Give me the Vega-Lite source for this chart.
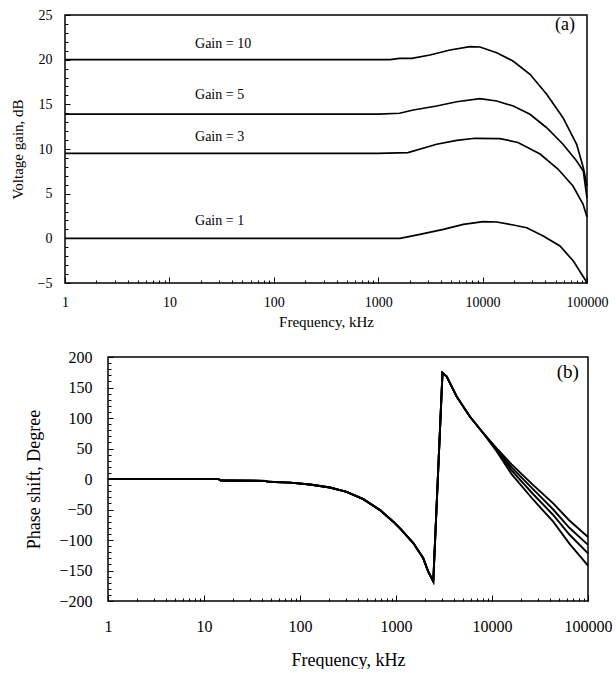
{
  "$schema": "https://vega.github.io/schema/vega-lite/v6.json",
  "padding": {"left": 9, "top": 7, "right": 0, "bottom": 0},
  "spacing": 19,
  "config": {
    "font": "Liberation Serif",
    "view": {"stroke": "black", "strokeWidth": 1.5},
    "axis": {
      "domain": false, "grid": false, "labelFlush": false, "labelOverlap": false,
      "labelColor": "black", "titleColor": "black", "tickColor": "black",
      "titleFontWeight": "normal", "labelFont": "Liberation Serif", "titleFont": "Liberation Serif",
      "tickWidth": 1
    }
  },
  "datasets": {
    "gain": [
      {"g": "10", "f": 1, "v": 20}, {"g": "10", "f": 10, "v": 20}, {"g": "10", "f": 100, "v": 20}, {"g": "10", "f": 1000, "v": 20}, {"g": "10", "f": 1300, "v": 20}, {"g": "10", "f": 1600, "v": 20.15}, {"g": "10", "f": 2100, "v": 20.15}, {"g": "10", "f": 3135, "v": 20.52}, {"g": "10", "f": 4875, "v": 21.08}, {"g": "10", "f": 7570, "v": 21.45}, {"g": "10", "f": 9440, "v": 21.42}, {"g": "10", "f": 13650, "v": 20.78}, {"g": "10", "f": 19550, "v": 19.85}, {"g": "10", "f": 28450, "v": 18.36}, {"g": "10", "f": 41100, "v": 16.12}, {"g": "10", "f": 58900, "v": 13.5}, {"g": "10", "f": 79600, "v": 10.53}, {"g": "10", "f": 92200, "v": 7.91}, {"g": "10", "f": 100000, "v": 5.86},
      {"g": "5", "f": 1, "v": 13.9}, {"g": "5", "f": 10, "v": 13.9}, {"g": "5", "f": 100, "v": 13.9}, {"g": "5", "f": 1000, "v": 13.9}, {"g": "5", "f": 1600, "v": 14.0}, {"g": "5", "f": 2168, "v": 14.37}, {"g": "5", "f": 3630, "v": 14.81}, {"g": "5", "f": 5650, "v": 15.29}, {"g": "5", "f": 9440, "v": 15.63}, {"g": "5", "f": 13650, "v": 15.37}, {"g": "5", "f": 19670, "v": 14.81}, {"g": "5", "f": 28450, "v": 13.88}, {"g": "5", "f": 41100, "v": 12.38}, {"g": "5", "f": 58900, "v": 10.53}, {"g": "5", "f": 79600, "v": 8.66}, {"g": "5", "f": 92200, "v": 7.54}, {"g": "5", "f": 100000, "v": 4.51},
      {"g": "3", "f": 1, "v": 9.5}, {"g": "3", "f": 10, "v": 9.5}, {"g": "3", "f": 100, "v": 9.5}, {"g": "3", "f": 1000, "v": 9.5}, {"g": "3", "f": 1930, "v": 9.6}, {"g": "3", "f": 3630, "v": 10.53}, {"g": "3", "f": 5650, "v": 10.97}, {"g": "3", "f": 8460, "v": 11.2}, {"g": "3", "f": 14680, "v": 11.17}, {"g": "3", "f": 21800, "v": 10.73}, {"g": "3", "f": 35500, "v": 9.44}, {"g": "3", "f": 52700, "v": 7.76}, {"g": "3", "f": 73400, "v": 5.86}, {"g": "3", "f": 91600, "v": 3.84}, {"g": "3", "f": 100000, "v": 2.39},
      {"g": "1", "f": 1, "v": 0}, {"g": "1", "f": 10, "v": 0}, {"g": "1", "f": 100, "v": 0}, {"g": "1", "f": 1000, "v": 0}, {"g": "1", "f": 1618, "v": 0}, {"g": "1", "f": 2514, "v": 0.45}, {"g": "1", "f": 4205, "v": 1.01}, {"g": "1", "f": 6535, "v": 1.57}, {"g": "1", "f": 10160, "v": 1.86}, {"g": "1", "f": 13650, "v": 1.83}, {"g": "1", "f": 19670, "v": 1.49}, {"g": "1", "f": 26440, "v": 1.19}, {"g": "1", "f": 38100, "v": 0.26}, {"g": "1", "f": 55100, "v": -0.86}, {"g": "1", "f": 74000, "v": -2.54}, {"g": "1", "f": 95700, "v": -4.6}, {"g": "1", "f": 100000, "v": -5}
    ],
    "gainLabels": [
      {"label": "Gain = 10", "f": 17.6, "v": 21.7},
      {"label": "Gain = 5", "f": 17.6, "v": 16.1},
      {"label": "Gain = 3", "f": 17.6, "v": 11.3},
      {"label": "Gain = 1", "f": 17.6, "v": 1.9}
    ],
    "panelA": [{"label": "(a)", "f": 61600, "v": 23.9}],
    "panelB": [{"label": "(b)", "f": 61700, "v": 176}],
    "phase": [
      {"g": "A", "f": 1, "v": 0}, {"g": "A", "f": 14, "v": 0}, {"g": "A", "f": 15, "v": -2.5}, {"g": "A", "f": 44, "v": -3}, {"g": "A", "f": 46, "v": -4.5}, {"g": "A", "f": 79, "v": -6}, {"g": "A", "f": 127, "v": -9}, {"g": "A", "f": 205, "v": -14}, {"g": "A", "f": 306, "v": -21}, {"g": "A", "f": 456, "v": -33}, {"g": "A", "f": 681, "v": -51}, {"g": "A", "f": 937, "v": -70}, {"g": "A", "f": 1101, "v": -81}, {"g": "A", "f": 1514, "v": -105}, {"g": "A", "f": 1923, "v": -130}, {"g": "A", "f": 2168, "v": -152}, {"g": "A", "f": 2445, "v": -168}, {"g": "A", "f": 3050, "v": 174}, {"g": "A", "f": 3375, "v": 168}, {"g": "A", "f": 4290, "v": 135}, {"g": "A", "f": 5900, "v": 102}, {"g": "A", "f": 8120, "v": 75}, {"g": "A", "f": 11200, "v": 50}, {"g": "A", "f": 16000, "v": 24}, {"g": "A", "f": 26900, "v": -10}, {"g": "A", "f": 43400, "v": -40}, {"g": "A", "f": 64000, "v": -68}, {"g": "A", "f": 100000, "v": -95},
      {"g": "B", "f": 1, "v": 0}, {"g": "B", "f": 14, "v": 0}, {"g": "B", "f": 15, "v": -2.5}, {"g": "B", "f": 44, "v": -3}, {"g": "B", "f": 46, "v": -4.5}, {"g": "B", "f": 79, "v": -6}, {"g": "B", "f": 127, "v": -9}, {"g": "B", "f": 205, "v": -14}, {"g": "B", "f": 306, "v": -21}, {"g": "B", "f": 456, "v": -33}, {"g": "B", "f": 681, "v": -51}, {"g": "B", "f": 937, "v": -70}, {"g": "B", "f": 1101, "v": -81}, {"g": "B", "f": 1514, "v": -105}, {"g": "B", "f": 1923, "v": -130}, {"g": "B", "f": 2168, "v": -152}, {"g": "B", "f": 2445, "v": -168}, {"g": "B", "f": 3050, "v": 174}, {"g": "B", "f": 3375, "v": 168}, {"g": "B", "f": 4290, "v": 135}, {"g": "B", "f": 5900, "v": 102}, {"g": "B", "f": 8120, "v": 75}, {"g": "B", "f": 11200, "v": 49}, {"g": "B", "f": 16000, "v": 19}, {"g": "B", "f": 26900, "v": -17}, {"g": "B", "f": 43400, "v": -50}, {"g": "B", "f": 64000, "v": -80}, {"g": "B", "f": 100000, "v": -108},
      {"g": "C", "f": 1, "v": 0}, {"g": "C", "f": 14, "v": 0}, {"g": "C", "f": 15, "v": -2.5}, {"g": "C", "f": 44, "v": -3}, {"g": "C", "f": 46, "v": -4.5}, {"g": "C", "f": 79, "v": -6}, {"g": "C", "f": 127, "v": -9}, {"g": "C", "f": 205, "v": -14}, {"g": "C", "f": 306, "v": -21}, {"g": "C", "f": 456, "v": -33}, {"g": "C", "f": 681, "v": -51}, {"g": "C", "f": 937, "v": -70}, {"g": "C", "f": 1101, "v": -81}, {"g": "C", "f": 1514, "v": -105}, {"g": "C", "f": 1923, "v": -130}, {"g": "C", "f": 2168, "v": -152}, {"g": "C", "f": 2445, "v": -168}, {"g": "C", "f": 3050, "v": 174}, {"g": "C", "f": 3375, "v": 168}, {"g": "C", "f": 4290, "v": 135}, {"g": "C", "f": 5900, "v": 102}, {"g": "C", "f": 8120, "v": 75}, {"g": "C", "f": 11200, "v": 47}, {"g": "C", "f": 16000, "v": 14}, {"g": "C", "f": 26900, "v": -25}, {"g": "C", "f": 43400, "v": -59}, {"g": "C", "f": 64000, "v": -91}, {"g": "C", "f": 100000, "v": -122},
      {"g": "D", "f": 1, "v": 0}, {"g": "D", "f": 14, "v": 0}, {"g": "D", "f": 15, "v": -2.5}, {"g": "D", "f": 44, "v": -3}, {"g": "D", "f": 46, "v": -4.5}, {"g": "D", "f": 79, "v": -6}, {"g": "D", "f": 127, "v": -9}, {"g": "D", "f": 205, "v": -14}, {"g": "D", "f": 306, "v": -21}, {"g": "D", "f": 456, "v": -33}, {"g": "D", "f": 681, "v": -51}, {"g": "D", "f": 937, "v": -70}, {"g": "D", "f": 1101, "v": -81}, {"g": "D", "f": 1514, "v": -105}, {"g": "D", "f": 1923, "v": -130}, {"g": "D", "f": 2168, "v": -152}, {"g": "D", "f": 2445, "v": -168}, {"g": "D", "f": 3050, "v": 174}, {"g": "D", "f": 3375, "v": 168}, {"g": "D", "f": 4290, "v": 135}, {"g": "D", "f": 5900, "v": 102}, {"g": "D", "f": 8120, "v": 75}, {"g": "D", "f": 11200, "v": 45}, {"g": "D", "f": 16000, "v": 8}, {"g": "D", "f": 26900, "v": -34}, {"g": "D", "f": 43400, "v": -70}, {"g": "D", "f": 64000, "v": -106}, {"g": "D", "f": 100000, "v": -142}
    ]
  },
  "vconcat": [
    {
      "width": 522,
      "height": 268,
      "layer": [
        {
          "data": {"name": "gain"},
          "mark": {"type": "line", "color": "black", "strokeWidth": 1.7},
          "encoding": {
            "x": {
              "field": "f", "type": "quantitative",
              "scale": {"type": "log", "domain": [1, 100000], "nice": false},
              "axis": {
                "title": "Frequency, kHz", "titleFontSize": 15, "labelFontSize": 14,
                "labelOverlap": false,
                "values": [1,2,3,4,5,6,7,8,9,10,20,30,40,50,60,70,80,90,100,200,300,400,500,600,700,800,900,1000,2000,3000,4000,5000,6000,7000,8000,9000,10000,20000,30000,40000,50000,60000,70000,80000,90000,100000],
                "format": "d",
                "labelExpr": "indexof([1,10,100,1000,10000,100000], datum.value) >= 0 ? datum.label : ''",
                "tickSize": {"condition": {"test": "indexof([1,10,100,1000,10000,100000], datum.value) >= 0", "value": -6}, "value": -3},
                "labelPadding": 18, "titlePadding": 2
              }
            },
            "y": {
              "field": "v", "type": "quantitative",
              "scale": {"domain": [-5, 25], "nice": false, "zero": false},
              "axis": {
                "title": "Voltage gain, dB", "titleFontSize": 15, "labelFontSize": 14,
                "labelOverlap": false,
                "tickCount": 200,
                "format": "d",
                "values": [-5,-4,-3,-2,-1,0,1,2,3,4,5,6,7,8,9,10,11,12,13,14,15,16,17,18,19,20,21,22,23,24,25],
                "labelExpr": "datum.value % 5 === 0 ? datum.label : ''",
                "tickSize": {"condition": {"test": "datum.value % 5 === 0", "value": -5}, "value": -3},
                "labelPadding": 18, "titlePadding": 12
              }
            },
            "detail": {"field": "g"}
          }
        },
        {
          "data": {"name": "gainLabels"},
          "mark": {"type": "text", "align": "left", "baseline": "middle", "fontSize": 14, "font": "Liberation Serif", "color": "black"},
          "encoding": {
            "x": {"field": "f", "type": "quantitative"},
            "y": {"field": "v", "type": "quantitative"},
            "text": {"field": "label"}
          }
        },
        {
          "data": {"name": "panelA"},
          "mark": {"type": "text", "align": "center", "baseline": "middle", "fontSize": 18, "font": "Liberation Serif", "color": "black"},
          "encoding": {
            "x": {"field": "f", "type": "quantitative"},
            "y": {"field": "v", "type": "quantitative"},
            "text": {"field": "label"}
          }
        }
      ]
    },
    {
      "width": 523,
      "height": 244,
      "view": {"stroke": null},
      "layer": [
        {
          "data": {"name": "phase"},
          "mark": {"type": "line", "color": "black", "strokeWidth": 1.9},
          "encoding": {
            "x": {
              "field": "f", "type": "quantitative",
              "scale": {"type": "log", "domain": [1, 100000], "nice": false, "range": [43, 523]},
              "axis": {
                "title": "Frequency, kHz", "titleFontSize": 18, "labelFontSize": 16,
                "labelOverlap": false,
                "values": [1,2,3,4,5,6,7,8,9,10,20,30,40,50,60,70,80,90,100,200,300,400,500,600,700,800,900,1000,2000,3000,4000,5000,6000,7000,8000,9000,10000,20000,30000,40000,50000,60000,70000,80000,90000,100000],
                "format": "d",
                "labelExpr": "indexof([1,10,100,1000,10000,100000], datum.value) >= 0 ? datum.label : ''",
                "tickSize": {"condition": {"test": "indexof([1,10,100,1000,10000,100000], datum.value) >= 0", "value": -6}, "value": -3},
                "labelPadding": 23, "titlePadding": 14
              }
            },
            "y": {
              "field": "v", "type": "quantitative",
              "scale": {"domain": [-200, 200], "nice": false, "zero": false},
              "axis": {
                "title": "Phase shift, Degree", "titleFontSize": 18, "labelFontSize": 16,
                "labelOverlap": false,
                "offset": -43,
                "tickCount": 200,
                "format": "d",
                "values": [-200,-190,-180,-170,-160,-150,-140,-130,-120,-110,-100,-90,-80,-70,-60,-50,-40,-30,-20,-10,0,10,20,30,40,50,60,70,80,90,100,110,120,130,140,150,160,170,180,190,200],
                "labelExpr": "datum.value % 50 === 0 ? datum.label : ''",
                "tickSize": {"condition": {"test": "datum.value % 50 === 0", "value": -5}, "value": -3},
                "labelPadding": 21, "titlePadding": 15
              }
            },
            "detail": {"field": "g"}
          }
        },
        {
          "data": {"name": "panelB"},
          "mark": {"type": "rect", "filled": false, "stroke": "black", "strokeWidth": 1.5},
          "encoding": {
            "x": {"datum": 1},
            "x2": {"datum": 100000},
            "y": {"datum": -200},
            "y2": {"datum": 200}
          }
        },
        {
          "data": {"name": "panelB"},
          "mark": {"type": "text", "align": "center", "baseline": "middle", "fontSize": 19, "font": "Liberation Serif", "color": "black"},
          "encoding": {
            "x": {"field": "f", "type": "quantitative"},
            "y": {"field": "v", "type": "quantitative"},
            "text": {"field": "label"}
          }
        }
      ]
    }
  ]
}
